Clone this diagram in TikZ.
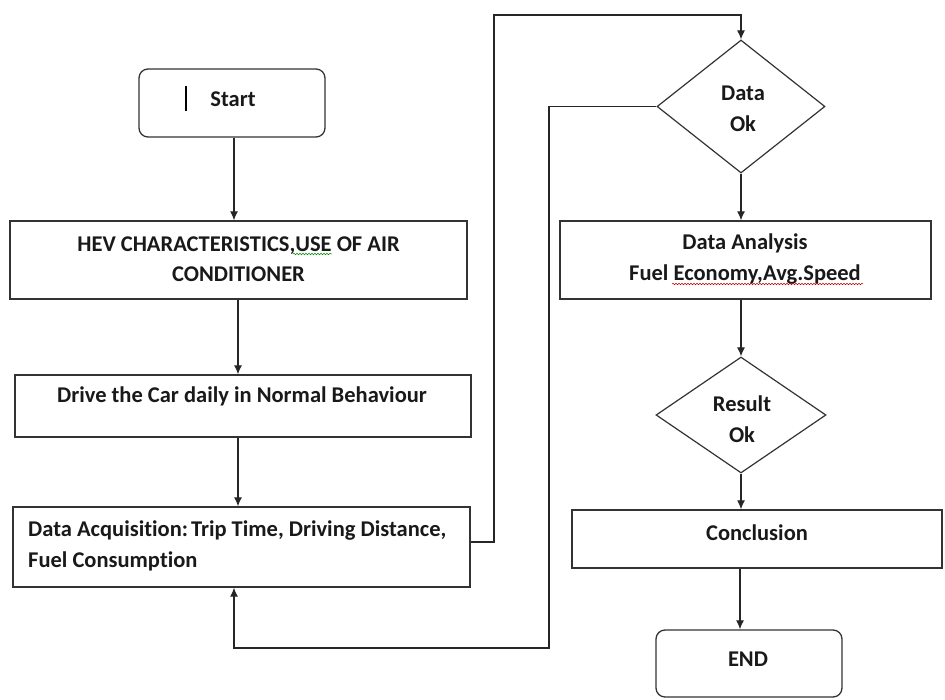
\documentclass[tikz,border=0pt]{standalone}
\usepackage{fontspec}
\setmainfont{Carlito}[Ligatures={NoCommon}]
\usetikzlibrary{arrows.meta,shapes.geometric,decorations.pathmorphing}
\tikzset{
  lbl/.style={font=\bfseries\fontsize{22.5}{30.5}\selectfont, inner sep=0pt, align=center, text=black!90},
  boxr/.style={draw=black!80, line width=1.3pt, inner sep=0pt},
  roundb/.style={boxr, rounded corners=9pt},
  dia/.style={draw=black!80, line width=1.2pt, shape=diamond, inner sep=0pt},
  arr/.style={draw=black!85, line width=1.2pt, -{Latex[length=9pt,width=8pt]}},
  squig/.style={line width=0.5pt, decorate, decoration={snake, amplitude=0.8pt, segment length=3pt}}
}
\begin{document}
\begin{tikzpicture}[x=1pt,y=-1pt]
\useasboundingbox (0,0) rectangle (945,700);
% boxes
\node[roundb, minimum width=186pt, minimum height=68pt] (start) at (232,103) {};
\node[lbl] (startT) at (233,99) {Start};
\node[inner sep=0pt] (bar) at (186,98.5) {\rule{2.6pt}{25pt}};
\node[boxr, minimum width=457pt, minimum height=78pt] (hev) at (238.5,260) {};
\node[lbl] (hevT) at (238.5,259) {HEV CHARACTERISTICS,USE OF AIR\\CONDITIONER};
\node[boxr, minimum width=456pt, minimum height=62pt] (drive) at (243,406) {};
\node[lbl] (driveT) at (242,396) {Drive the Car daily in Normal Behaviour};
\node[boxr, minimum width=457pt, minimum height=80pt] (acq) at (241.5,547) {};
\node[lbl, anchor=west, align=left] (acqT) at (28,546) {Data Acquisition:\hspace{3pt}Trip Time, Driving Distance,\\Fuel Consumption};
\node[dia, minimum width=168pt, minimum height=133pt] (dok) at (741,106.5) {};
\node[lbl] (dokT) at (743,109) {Data\\Ok};
\node[boxr, minimum width=371pt, minimum height=78pt] (ana) at (745.5,260) {};
\node[lbl] (anaT) at (745,259) {Data Analysis\\Fuel Economy,Avg.Speed};
\node[dia, minimum width=170pt, minimum height=116pt] (res) at (741,415) {};
\node[lbl] (resT) at (742,419) {Result\\Ok};
\node[boxr, minimum width=370pt, minimum height=58pt] (conc) at (757,539) {};
\node[lbl] (concT) at (757,533) {Conclusion};
\node[roundb, minimum width=186pt, minimum height=67pt] (end) at (749,663.5) {};
\node[lbl] (endT) at (748,659) {END};
% spell-check squiggles
\draw[squig, green!55!black] (293,254) -- (332,254);
\draw[squig, red!75!black] (672,284) -- (863,284);
% connectors
\draw[arr] (start.south -| 234,0) -- (hev.north -| 234,0);
\draw[arr] (hev.south -| 238,0) -- (drive.north -| 238,0);
\draw[arr] (drive.south -| 238,0) -- (acq.north -| 238,0);
\coordinate (a1) at (494,542);
\coordinate (a2) at (494,15);
\coordinate (a3) at (741,15);
\draw[arr] (acq.east |- a1) -- (a1) -- (a2) -- (a3) -- (dok.north);
\coordinate (b1) at (549,106.5);
\coordinate (b2) at (549,648);
\coordinate (b3) at (234,648);
\draw[arr] (dok.west) -- (b1) -- (b2) -- (b3) -- (acq.south -| b3);
\draw[arr] (dok.south) -- (ana.north -| dok.south);
\draw[arr] (ana.south -| res.north) -- (res.north);
\draw[arr] (res.south) -- (conc.north -| res.south);
\draw[arr] (conc.south -| 740,0) -- (end.north -| 740,0);
\end{tikzpicture}
\end{document}
